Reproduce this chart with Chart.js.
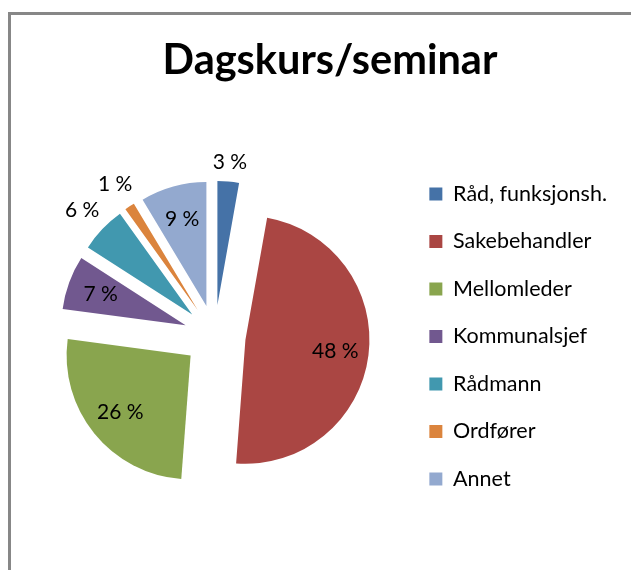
<!DOCTYPE html>
<html><head><meta charset="utf-8">
<script src="https://cdn.jsdelivr.net/npm/chart.js@4/dist/chart.umd.min.js"></script>
<style>
html,body{margin:0;padding:0;background:#fff;overflow:hidden;width:631px;height:570px;}
#frame{position:absolute;left:8px;top:12px;width:700px;height:700px;border:3px solid #878787;box-sizing:border-box;}
#wrap{position:absolute;left:10px;top:15px;width:640px;height:555px;}
</style></head><body>
<div id="frame"></div>
<div id="wrap"><canvas id="c" width="640" height="555"></canvas></div>
<script>
const titleText = 'Dagskurs/seminar';
const categories = ['Råd, funksjonsh.', 'Sakebehandler', 'Mellomleder', 'Kommunalsjef', 'Rådmann', 'Ordfører', 'Annet'];
const shares = [2.8, 48.4, 25.9, 7.0, 6.0, 1.3, 8.6];
const colors = ['#4572A7', '#AA4643', '#89A54E', '#71588F', '#4198AF', '#DB843D', '#93A9CF'];

const EXPLODE = 31;
const FONT = 'Lato, "Open Sans", sans-serif';

// Title centred over the whole chart frame (like Excel), not only over padded area
const titleSpan = {
  id: 'titleSpan',
  afterLayout(chart) {
    const t = chart.titleBlock;
    if (t) { t.left = 0; t.right = chart.width; t.width = chart.width; }
  }
};

const explodePlugin = {
  id: 'explode',
  beforeDatasetDraw(chart, args) {
    const ctx = chart.ctx;
    args.meta.data.forEach(arc => {
      const p = arc.getProps(['startAngle', 'endAngle'], true);
      const mid = (p.startAngle + p.endAngle) / 2;
      ctx.save();
      ctx.translate(Math.cos(mid) * EXPLODE, Math.sin(mid) * EXPLODE);
      arc.draw(ctx);
      ctx.restore();
    });
    return false;
  }
};

const labelPlugin = {
  id: 'pctLabels',
  afterDatasetsDraw(chart) {
    const ctx = chart.ctx;
    const meta = chart.getDatasetMeta(0);
    const total = shares.reduce((a, b) => a + b, 0);
    ctx.save();
    ctx.font = '21px ' + FONT;
    ctx.fillStyle = '#000';
    ctx.textAlign = 'center';
    ctx.textBaseline = 'middle';
    meta.data.forEach((arc, i) => {
      const p = arc.getProps(['x', 'y', 'startAngle', 'endAngle', 'outerRadius'], true);
      const mid = (p.startAngle + p.endAngle) / 2;
      const half = (p.endAngle - p.startAngle) / 2;
      const ax = p.x + Math.cos(mid) * EXPLODE;
      const ay = p.y + Math.sin(mid) * EXPLODE;
      const txt = Math.round(shares[i] / total * 100) + ' %';
      const w = ctx.measureText(txt).width;
      const h = 16;
      const rIn = p.outerRadius * 0.73;
      const fits = half >= Math.PI / 2 || 2 * rIn * Math.sin(half) > w + 4;
      let r;
      if (fits) {
        r = rIn;
      } else {
        r = p.outerRadius + 10 + Math.abs(Math.cos(mid)) * w / 2 + Math.abs(Math.sin(mid)) * h / 2;
      }
      ctx.fillText(txt, ax + Math.cos(mid) * r, ay + Math.sin(mid) * r);
    });
    ctx.restore();
  }
};

new Chart(document.getElementById('c'), {
  type: 'pie',
  data: {
    labels: categories,
    datasets: [{
      data: shares,
      backgroundColor: colors,
      borderWidth: 0,
      radius: 124
    }]
  },
  options: {
    responsive: false,
    animation: false,
    events: [],
    layout: { padding: { left: 16, right: 33, top: 0, bottom: 3 } },
    plugins: {
      title: {
        display: true,
        text: titleText,
        color: '#000',
        font: { family: FONT, size: 41.5, weight: 'bold', lineHeight: 1.2 },
        padding: { top: 21, bottom: 19 }
      },
      legend: {
        position: 'right',
        fullSize: false,
        align: 'center',
        title: { display: true, text: '', font: { size: 1, lineHeight: 1.2 }, padding: 0 },
        labels: {
          color: '#000',
          font: { family: FONT, size: 21.5 },
          boxWidth: 13,
          boxHeight: 13,
          padding: 26
        }
      },
      tooltip: { enabled: false }
    }
  },
  plugins: [titleSpan, explodePlugin, labelPlugin]
});
</script>
</body></html>
